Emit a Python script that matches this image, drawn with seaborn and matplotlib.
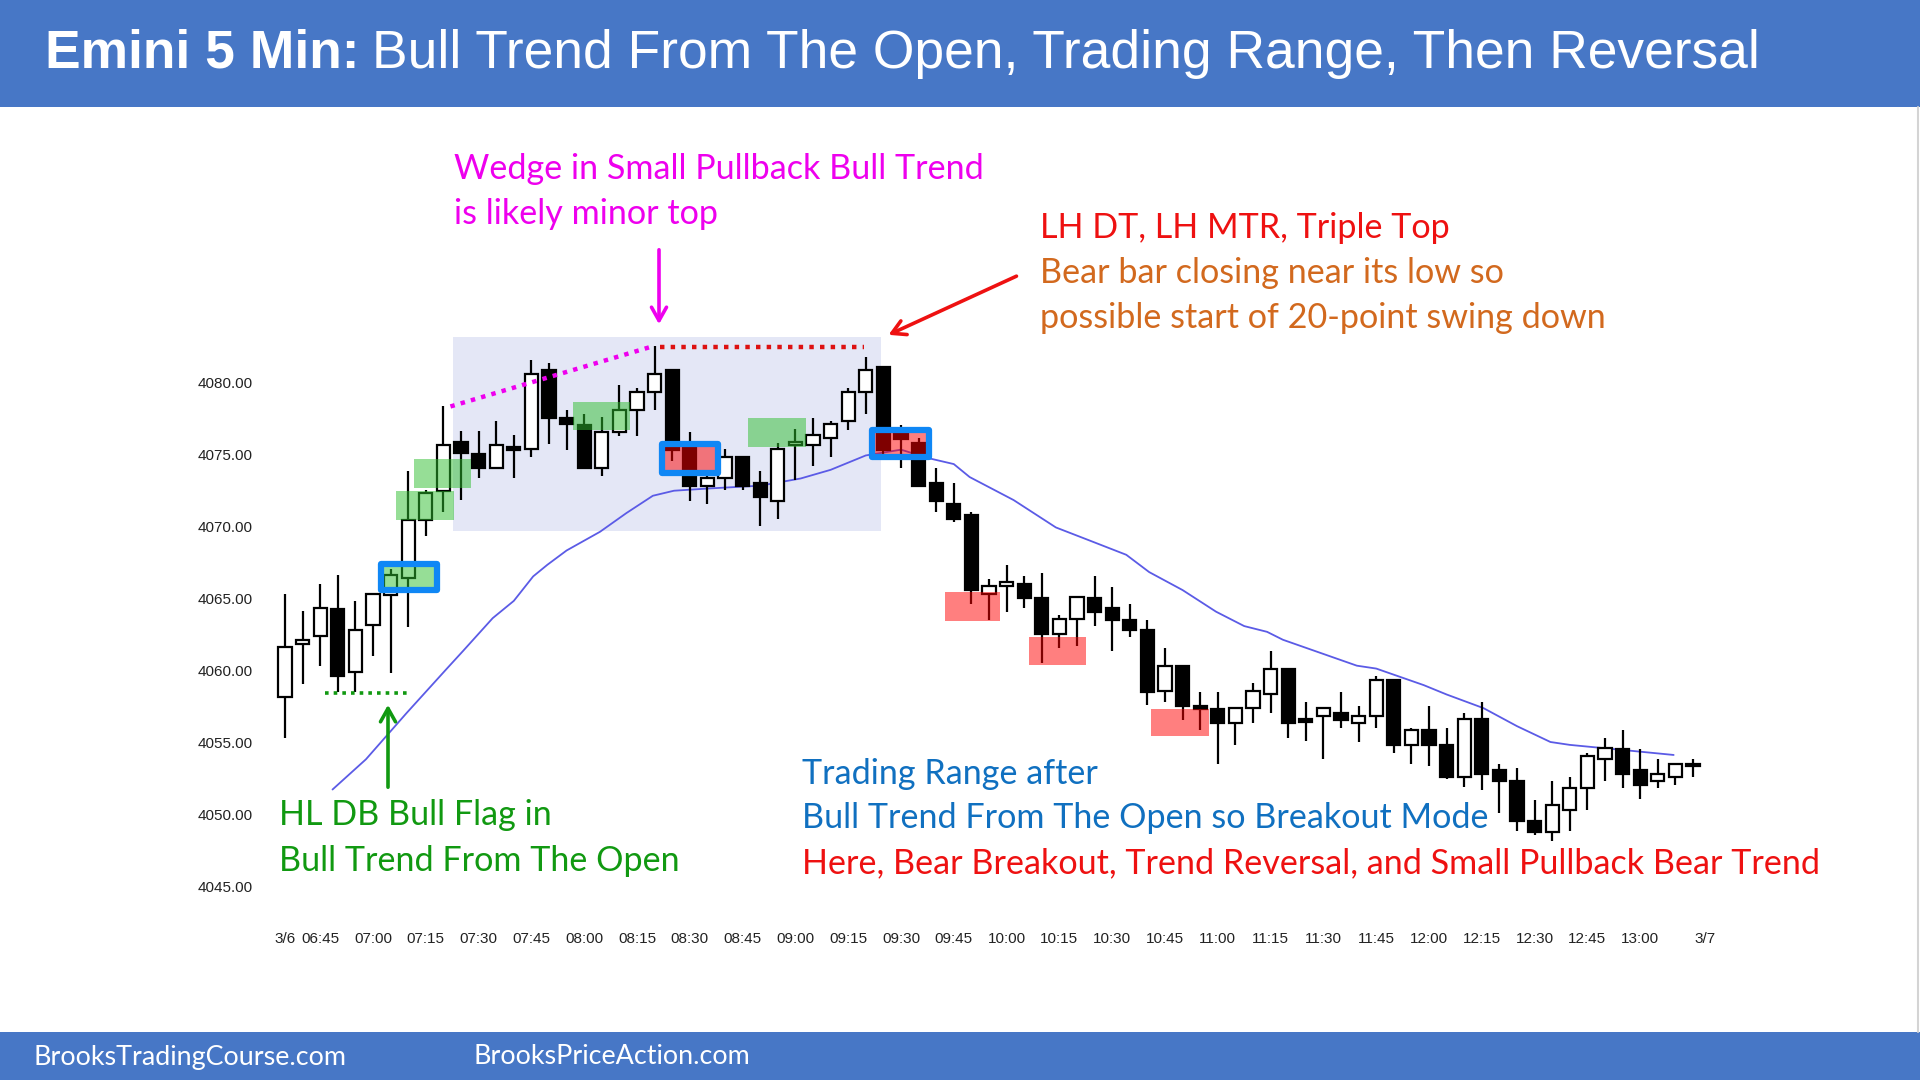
import matplotlib
matplotlib.use("Agg")
import matplotlib.pyplot as plt
from matplotlib.patches import Rectangle
from matplotlib.lines import Line2D
import pandas as pd
import seaborn as sns

# 5 min bars, index 0 = 06:35 bar, index 80 = 13:15 bar
opens = [4058.1, 4061.8, 4062.35, 4064.25, 4059.85, 4063.1, 4065.2, 4066.4, 4070.4, 4072.4,
         4075.8, 4075.0, 4074.0, 4075.5, 4075.35, 4080.8, 4077.5, 4077.0, 4074.05, 4076.55,
         4078.05, 4079.3, 4080.8, 4075.5, 4072.8, 4073.3, 4074.8, 4073.0, 4071.75, 4075.6,
         4075.6, 4076.1, 4077.3, 4079.3, 4081.05, 4076.5, 4075.75, 4073.0, 4071.5, 4070.75,
         4065.3, 4065.8, 4066.0, 4065.0, 4062.5, 4063.55, 4065.0, 4064.3, 4063.5, 4062.8,
         4058.55, 4060.3, 4057.5, 4057.3, 4056.3, 4057.35, 4058.3, 4060.05, 4056.6, 4056.8,
         4057.0, 4056.35, 4056.8, 4059.3, 4054.8, 4055.8, 4054.8, 4052.55, 4056.6, 4053.05,
         4052.3, 4049.5, 4048.75, 4050.3, 4051.8, 4053.8, 4054.5, 4053.05, 4052.3, 4052.55,
         4053.3]
highs = [4065.3, 4064.1, 4066.0, 4066.6, 4064.8, 4065.3, 4067.0, 4073.8, 4072.5, 4078.3,
         4076.6, 4076.6, 4077.3, 4076.3, 4081.5, 4081.3, 4078.05, 4077.8, 4077.55, 4079.8,
         4079.55, 4082.5, 4080.8, 4076.55, 4073.6, 4075.35, 4074.8, 4073.8, 4075.75, 4076.75,
         4077.5, 4077.3, 4079.55, 4081.75, 4081.05, 4077.0, 4076.1, 4074.0, 4073.0, 4071.0,
         4066.3, 4067.3, 4066.5, 4066.75, 4063.8, 4065.05, 4066.5, 4065.75, 4064.55, 4063.5,
         4061.55, 4060.3, 4058.5, 4058.5, 4057.45, 4059.1, 4061.3, 4060.05, 4057.75, 4057.35,
         4058.5, 4057.5, 4059.55, 4059.3, 4056.0, 4057.5, 4056.0, 4057.0, 4057.75, 4053.5,
         4053.2, 4051.0, 4052.3, 4052.55, 4054.25, 4055.25, 4055.8, 4054.5, 4053.8, 4053.5,
         4053.8]
lows = [4055.3, 4059.05, 4060.25, 4058.5, 4058.5, 4061.0, 4059.8, 4063.0, 4069.3, 4071.0,
        4071.8, 4073.3, 4074.0, 4073.3, 4074.8, 4075.7, 4075.3, 4074.0, 4073.5, 4076.25,
        4076.25, 4078.05, 4074.5, 4071.75, 4071.5, 4072.5, 4072.5, 4070.0, 4070.5, 4073.2,
        4074.2, 4074.8, 4076.7, 4077.8, 4074.9, 4074.0, 4072.8, 4071.0, 4070.3, 4064.6,
        4063.5, 4064.05, 4064.3, 4060.5, 4061.55, 4061.7, 4063.05, 4061.3, 4062.3, 4057.6,
        4057.75, 4056.5, 4055.8, 4053.5, 4054.8, 4056.35, 4057.0, 4055.25, 4055.05, 4053.8,
        4056.0, 4055.0, 4056.0, 4054.25, 4053.5, 4053.3, 4052.4, 4051.9, 4051.7, 4050.1,
        4048.8, 4048.55, 4048.1, 4048.8, 4050.3, 4052.3, 4051.8, 4051.05, 4051.8, 4052.0,
        4052.55]
closes = [4061.6, 4062.1, 4064.3, 4059.6, 4062.8, 4065.3, 4066.6, 4070.4, 4072.3, 4075.6,
          4075.1, 4074.0, 4075.6, 4075.3, 4080.55, 4077.5, 4077.1, 4074.0, 4076.55, 4078.05,
          4079.3, 4080.55, 4075.3, 4072.8, 4073.3, 4074.8, 4072.8, 4072.0, 4075.35, 4075.8,
          4076.3, 4077.1, 4079.3, 4080.8, 4075.3, 4076.05, 4072.8, 4071.75, 4070.5, 4065.55,
          4065.8, 4066.1, 4065.0, 4062.5, 4063.55, 4065.05, 4064.0, 4063.5, 4062.75, 4058.5,
          4060.3, 4057.5, 4057.3, 4056.3, 4057.35, 4058.55, 4060.05, 4056.35, 4056.4, 4057.35,
          4056.5, 4056.8, 4059.3, 4054.8, 4055.85, 4054.8, 4052.55, 4056.6, 4052.8, 4052.3,
          4049.5, 4048.75, 4050.6, 4051.8, 4054.05, 4054.55, 4052.8, 4052.0, 4052.8, 4053.5,
          4053.5]

# 20 bar EMA (bar position, price)
ema_pos = [2.7, 4.6, 6.9, 9.2, 10.1, 11.8, 13.0, 14.1, 14.9, 16.0, 17.9, 19.4, 20.9, 22.1,
           24.0, 27.0, 29.3, 31.0, 33.0, 35.0, 36.6, 38.0, 38.9, 41.4, 43.8, 45.7, 47.8,
           49.1, 51.0, 52.9, 54.5, 55.8, 56.7, 60.9, 62.0, 64.7, 66.0, 68.1, 70.0, 71.9,
           73.0, 74.7, 76.4, 78.9]
ema_vals = [4051.7, 4053.8, 4057.0, 4060.1, 4061.3, 4063.6, 4064.8, 4066.5, 4067.3, 4068.3,
            4069.6, 4070.9, 4072.1, 4072.45, 4072.6, 4072.8, 4073.3, 4073.9, 4074.9, 4075.3,
            4074.7, 4074.3, 4073.4, 4071.8, 4069.9, 4069.0, 4068.0, 4066.8, 4065.55, 4064.05,
            4063.05, 4062.65, 4062.1, 4060.3, 4060.1, 4058.95, 4058.3, 4057.35, 4056.1,
            4055.0, 4054.8, 4054.6, 4054.4, 4054.1]

price_ticks = [4045, 4050, 4055, 4060, 4065, 4070, 4075, 4080]
time_labels = ['06:45', '07:00', '07:15', '07:30', '07:45', '08:00', '08:15', '08:30',
               '08:45', '09:00', '09:15', '09:30', '09:45', '10:00', '10:15', '10:30',
               '10:45', '11:00', '11:15', '11:30', '11:45', '12:00', '12:15', '12:30',
               '12:45', '13:00']

BAR_PX = 17.6


def bar_index(label):
    h, m = label.split(':')
    return (int(h) * 60 + int(m) - (6 * 60 + 35)) / 5


# pixel -> data helpers for placing annotations
def xd(p):
    return (p - 285) / BAR_PX


def yd(p):
    return 4080 - (p - 382) / 14.4


sns.set_theme(style="white")
plt.rcParams['font.family'] = ['Liberation Sans', 'DejaVu Sans']

fig = plt.figure(figsize=(19.2, 10.8), dpi=100)
ax = fig.add_axes([275 / 1920, 1 - 910 / 1080, (1715 - 275) / 1920, (910 - 330) / 1080])
ax.set_xlim(xd(275), xd(1715))
ax.set_ylim(yd(910), yd(330))
for s in ax.spines.values():
    s.set_visible(False)

df = pd.DataFrame({'open': opens, 'high': highs, 'low': lows, 'close': closes})
df['idx'] = range(len(df))
df['bull'] = df['close'] >= df['open']
df['bottom'] = df[['open', 'close']].min(axis=1)
df['height'] = (df['close'] - df['open']).abs().clip(lower=0.12)

# trading range background
ax.add_patch(Rectangle((9.56, 4069.65), 33.85 - 9.56, 4083.15 - 4069.65,
                       facecolor='#e4e7f6', edgecolor='none', zorder=0))

ema = pd.DataFrame({'pos': ema_pos, 'ema': ema_vals})
sns.lineplot(data=ema, x='pos', y='ema', ax=ax, color='#5b5be6', lw=1.3, zorder=1)

ax.vlines(df['idx'], df['low'], df['high'], color='black', lw=1.6, zorder=2)
ax.bar(df['idx'], df['height'], bottom=df['bottom'], width=0.74,
       color=['white' if b else 'black' for b in df['bull']],
       edgecolor='black', lw=1.6, zorder=3)

# signal bar highlights
green_boxes = [(5.47, 8.64, 4065.53, 4067.36), (6.3, 9.6, 4070.45, 4072.4),
               (7.35, 10.55, 4072.65, 4074.62), (16.35, 19.6, 4076.7, 4078.6),
               (26.3, 29.6, 4075.5, 4077.5)]
red_boxes = [(21.42, 24.58, 4073.71, 4075.69), (33.35, 36.57, 4074.79, 4076.69),
             (37.5, 40.6, 4063.4, 4065.4), (42.3, 45.5, 4060.35, 4062.3),
             (49.2, 52.5, 4055.4, 4057.3)]
for x0, x1, y0, y1 in green_boxes:
    ax.add_patch(Rectangle((x0, y0), x1 - x0, y1 - y0, facecolor='#2ebe2e',
                           alpha=0.5, edgecolor='none', zorder=4))
for x0, x1, y0, y1 in red_boxes:
    ax.add_patch(Rectangle((x0, y0), x1 - x0, y1 - y0, facecolor='#ff0000',
                           alpha=0.5, edgecolor='none', zorder=4))
for x0, x1, y0, y1 in [green_boxes[0], red_boxes[0], red_boxes[1]]:
    ax.add_patch(Rectangle((x0, y0), x1 - x0, y1 - y0, fill=False, edgecolor='#0f87f5',
                           lw=4.5, joinstyle='round', zorder=5))

# dotted lines
ax.plot([2.3, 6.95], [4058.4, 4058.4], color='#119911', lw=2.6, ls=(0, (1, 1.4)), zorder=5)
ax.plot([9.4, 20.95], [4078.3, 4082.5], color='#ee00ee', lw=3.2, ls=(0, (1, 1.4)), zorder=5)
ax.plot([21.3, 32.9], [4082.45, 4082.45], color='#dd1111', lw=3.2, ls=(0, (1, 1.4)), zorder=5)

# arrows
arrow = dict(arrowstyle='->,head_length=0.8,head_width=0.45', lw=2.6)
ax.annotate('', xy=(xd(388), yd(702)), xytext=(xd(388), yd(790)),
            arrowprops=dict(arrow, color='#119911'), annotation_clip=False)
ax.annotate('', xy=(xd(659), yd(327)), xytext=(xd(659), yd(247)),
            arrowprops=dict(arrow, color='#ee00ee'), annotation_clip=False)
ax.annotate('', xy=(xd(886), yd(336)), xytext=(xd(1019), yd(275)),
            arrowprops=dict(arrow, color='#ee1111'), annotation_clip=False)

# annotation text
note = dict(fontsize=24.6, family=['Lato', 'DejaVu Sans'], va='center', ha='left')
ax.text(xd(454), yd(169), 'Wedge in Small Pullback Bull Trend', color='#ee00ee', **note)
ax.text(xd(454), yd(214), 'is likely minor top', color='#ee00ee', **note)
ax.text(xd(1040), yd(228), 'LH DT, LH MTR, Triple Top', color='#ee1111', **note)
ax.text(xd(1040), yd(273), 'Bear bar closing near its low so', color='#d2691e', **note)
ax.text(xd(1040), yd(318), 'possible start of 20-point swing down', color='#d2691e', **note)
ax.text(xd(279), yd(815), 'HL DB Bull Flag in', color='#119911', **note)
ax.text(xd(279), yd(861), 'Bull Trend From The Open', color='#119911', **note)
ax.text(xd(802), yd(774), 'Trading Range after', color='#1070c0', **note)
ax.text(xd(802), yd(818), 'Bull Trend From The Open so Breakout Mode', color='#1070c0', **note)
ax.text(xd(802), yd(863), 'Here, Bear Breakout, Trend Reversal, and Small Pullback Bear Trend',
        color='#ee1111', **note)

# axes ticks
ax.set_yticks(price_ticks)
ax.set_yticklabels([f'{p:.2f}' for p in price_ticks])
xt = [0] + [bar_index(t) for t in time_labels] + [80.7]
ax.set_xticks(xt)
ax.set_xticklabels(['3/6'] + time_labels + ['3/7'])
ax.tick_params(axis='both', length=0, labelsize=11, colors='#222222', pad=16)
ax.set_xlabel('')
ax.set_ylabel('')
ax.grid(False)

# header and footer bands
fig.patches.append(Rectangle((0, 1 - 107 / 1080), 1, 107 / 1080, transform=fig.transFigure,
                             facecolor='#4777c6', edgecolor='none', zorder=0))
fig.patches.append(Rectangle((0, 0), 1, 48 / 1080, transform=fig.transFigure,
                             facecolor='#4777c6', edgecolor='none', zorder=0))
fig.lines.append(Line2D([1917.5 / 1920, 1917.5 / 1920], [48 / 1080, 1 - 107 / 1080],
                        transform=fig.transFigure, color='#d4d4d4', lw=1.5))
t1 = fig.text(45 / 1920, 1 - 54 / 1080, 'Emini 5 Min:', color='white', fontsize=38.4,
              fontweight='bold', va='center', ha='left')
fig.canvas.draw()
bb = t1.get_window_extent()
fig.text((bb.x1 + 13) / 1920, 1 - 54 / 1080,
         'Bull Trend From The Open, Trading Range, Then Reversal',
         color='white', fontsize=38.4, va='center', ha='left')
foot = dict(color='white', fontsize=19.4, family=['Lato', 'DejaVu Sans'], va='center', ha='left')
fig.text(34 / 1920, 23 / 1080, 'BrooksTradingCourse.com', **foot)
fig.text(474 / 1920, 23 / 1080, 'BrooksPriceAction.com', **foot)

fig.savefig('out.png', dpi=100, facecolor='white')
